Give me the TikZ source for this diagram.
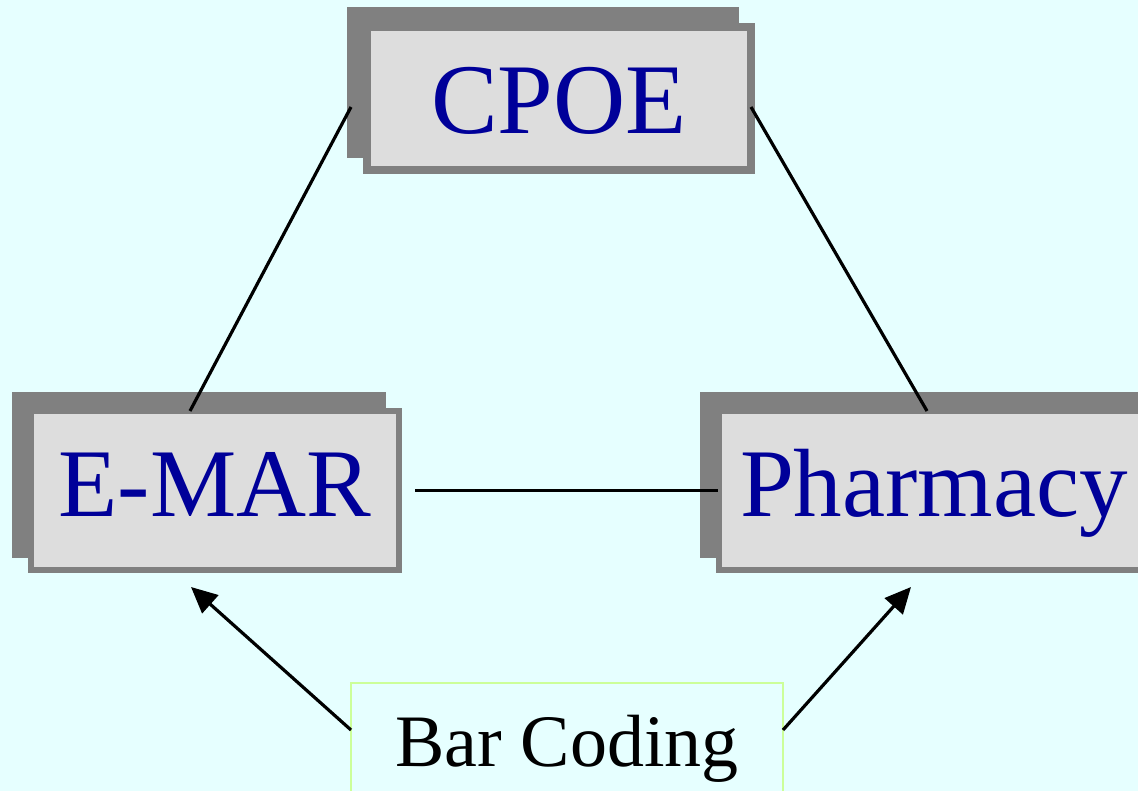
\documentclass[tikz,border=0pt]{standalone}
\usepackage{fontspec}
\setmainfont{Liberation Serif}
\usetikzlibrary{arrows.meta}
\definecolor{bgcyan}{RGB}{230,255,255}
\definecolor{boxfill}{RGB}{221,221,221}
\definecolor{boxgray}{RGB}{128,128,128}
\definecolor{txtblue}{RGB}{0,0,153}
\definecolor{barborder}{RGB}{204,255,153}
\tikzset{
  sysbox/.style={draw=boxgray, fill=boxfill, inner sep=0pt, text=txtblue},
  shadowbox/.style={fill=boxgray},
  conn/.style={line width=3.2pt, black},
  arr/.style={line width=3.2pt, black, -{Triangle[length=26pt,width=24pt]}},
  barbox/.style={draw=barborder, line width=2pt, fill=bgcyan, inner sep=0pt, text=black}
}
\begin{document}
\begin{tikzpicture}[x=1pt,y=-1pt]
\fill[bgcyan] (0,0) rectangle (1138,791);
\useasboundingbox (0,0) rectangle (1138,791);
% shadows
\fill[shadowbox] (347,7) rectangle (739,158);
\fill[shadowbox] (12,392) rectangle (386,558);
\fill[shadowbox] (700,392) rectangle (1160,558);
% boxes
\node[sysbox, line width=8pt, minimum width=384pt, minimum height=143pt,
      text height=71pt, text depth=0pt, font=\fontsize{100}{110}\selectfont]
      (cpoe) at (559,98.5) {CPOE};
\node[sysbox, line width=6pt, minimum width=368pt, minimum height=159pt,
      text height=66pt, text depth=15pt, font=\fontsize{97}{107}\selectfont]
      (emar) at (215,490.5) {E-MAR};
\node[sysbox, line width=6pt, minimum width=438pt, minimum height=159pt,
      text height=66pt, text depth=15pt, font=\fontsize{97}{107}\selectfont,
      text width=420pt, align=left]
      (pharm) at (938,490.5) {\hspace*{12pt}Pharmacy};
\node[barbox, minimum width=432pt, minimum height=137pt,
      text height=50pt, text depth=21pt, font=\fontsize{74}{84}\selectfont]
      (bar) at (567,751.5) {Bar Coding};
% connector end points
\coordinate (c1) at (351,107);
\coordinate (c2) at (751,107);
\coordinate (e1) at (190,411);
\coordinate (e2) at (415,490.5);
\coordinate (p1) at (927,411);
\coordinate (p2) at (718,490.5);
\coordinate (b1) at (351,730);
\coordinate (b2) at (783,730);
\coordinate (ea) at (191,587);
\coordinate (pa) at (911,587);
\draw[conn] (c1) -- (e1);
\draw[conn] (c2) -- (p1);
\draw[conn] (e2) -- (p2);
\draw[arr] (b1) -- (ea);
\draw[arr] (b2) -- (pa);
\end{tikzpicture}
\end{document}
